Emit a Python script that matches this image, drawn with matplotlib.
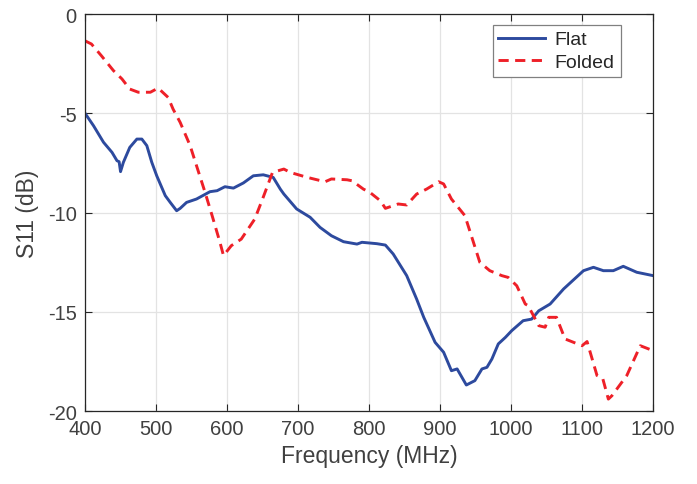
"""
S11 comparison: flat vs folded antenna
"""

import matplotlib
matplotlib.use("Agg")
import matplotlib.pyplot as plt

plt.rcParams["font.family"] = ["Liberation Sans", "DejaVu Sans"]
plt.rcParams["axes.unicode_minus"] = False

# values
flat_freq = [400, 412, 426, 438, 445, 448, 450, 454, 463, 473, 480, 487, 494, 501,
             513, 520, 529, 534, 543, 557, 576, 586, 597, 609, 623, 637, 651, 665,
             675, 680, 698, 717, 731, 747, 764, 783, 790, 811, 823, 834, 853, 867,
             877, 893, 905, 916, 924, 937, 949, 959, 966, 973, 982, 992, 1001, 1017,
             1029, 1039, 1055, 1074, 1102, 1116, 1130, 1144, 1158, 1177, 1200]
flat_s11 = [-5.0, -5.63, -6.46, -6.97, -7.39, -7.44, -7.94, -7.47, -6.72, -6.30,
            -6.30, -6.63, -7.47, -8.15, -9.15, -9.49, -9.91, -9.79, -9.49, -9.32,
            -8.95, -8.90, -8.70, -8.77, -8.51, -8.15, -8.10, -8.23, -8.82, -9.07,
            -9.82, -10.24, -10.75, -11.17, -11.47, -11.59, -11.50, -11.57, -11.64,
            -12.09, -13.18, -14.36, -15.28, -16.54, -17.04, -17.97, -17.88, -18.69,
            -18.47, -17.88, -17.80, -17.38, -16.62, -16.29, -15.95, -15.45, -15.37,
            -14.95, -14.61, -13.85, -12.93, -12.76, -12.93, -12.93, -12.71, -13.01,
            -13.18]

folded_freq = [400, 409, 423, 440, 452, 463, 475, 492, 503, 517, 524, 534, 548, 557,
               569, 579, 590, 595, 606, 620, 639, 650, 664, 680, 689, 713, 738, 747,
               769, 776, 792, 801, 816, 823, 841, 853, 867, 881, 898, 905, 916, 935,
               947, 956, 970, 987, 996, 1008, 1020, 1024, 1039, 1048, 1053, 1064, 1076,
               1100, 1107, 1121, 1129, 1137, 1142, 1163, 1182, 1200]
folded_s11 = [-1.35, -1.51, -2.10, -2.85, -3.27, -3.78, -3.94, -3.94, -3.73, -4.20,
              -4.79, -5.46, -6.63, -7.64, -8.98, -10.16, -11.50, -12.17, -11.67, -11.34,
              -10.33, -9.32, -7.98, -7.81, -7.98, -8.23, -8.45, -8.31, -8.35, -8.40,
              -8.82, -8.98, -9.41, -9.79, -9.57, -9.62, -9.07, -8.82, -8.45, -8.56,
              -9.32, -10.16, -11.50, -12.51, -12.93, -13.18, -13.27, -13.69, -14.61,
              -14.69, -15.70, -15.78, -15.28, -15.28, -16.37, -16.71, -16.50, -18.21,
              -18.35, -19.40, -19.23, -18.21, -16.71, -16.96]

x_ticks = [400, 500, 600, 700, 800, 900, 1000, 1100, 1200]
y_ticks = [0, -5, -10, -15, -20]


def main():
    fig = plt.figure(figsize=(6.97, 4.85), dpi=100)
    ax = fig.add_axes([0.122, 0.1505, 0.815, 0.8185])

    ax.plot(flat_freq, flat_s11, color="#2D4A9E", lw=2.1, label="Flat")
    ax.plot(folded_freq, folded_s11, color="#EE2028", lw=2.1, ls="--",
            dashes=(3.5, 2.2), label="Folded")

    ax.set_xlim(400, 1200)
    ax.set_ylim(-20, 0)
    ax.set_xticks(x_ticks)
    ax.set_yticks(y_ticks)
    ax.grid(True, color="#e3e3e3", lw=0.9)
    ax.set_axisbelow(True)

    ax.tick_params(direction="in", top=True, right=True, length=5,
                   labelsize=14.5, colors="#262626", labelcolor="#404040", pad=6)
    for s in ax.spines.values():
        s.set_color("#262626")
        s.set_linewidth(0.9)

    ax.set_xlabel("Frequency (MHz)", fontsize=16.5, color="#404040", labelpad=4)
    ax.set_ylabel("S11 (dB)", fontsize=16.5, color="#404040", labelpad=6)

    leg = ax.legend(loc="upper right", bbox_to_anchor=(0.96, 0.997),
                    fontsize=14, fancybox=False, framealpha=1,
                    edgecolor="#808080", handlelength=2.4, borderpad=0.3,
                    labelspacing=0.25, handletextpad=0.5)
    leg.get_frame().set_linewidth(0.9)
    for t in leg.get_texts():
        t.set_color("#262626")

    fig.savefig("out.png", dpi=100)
    plt.close(fig)


if __name__ == "__main__":
    main()
